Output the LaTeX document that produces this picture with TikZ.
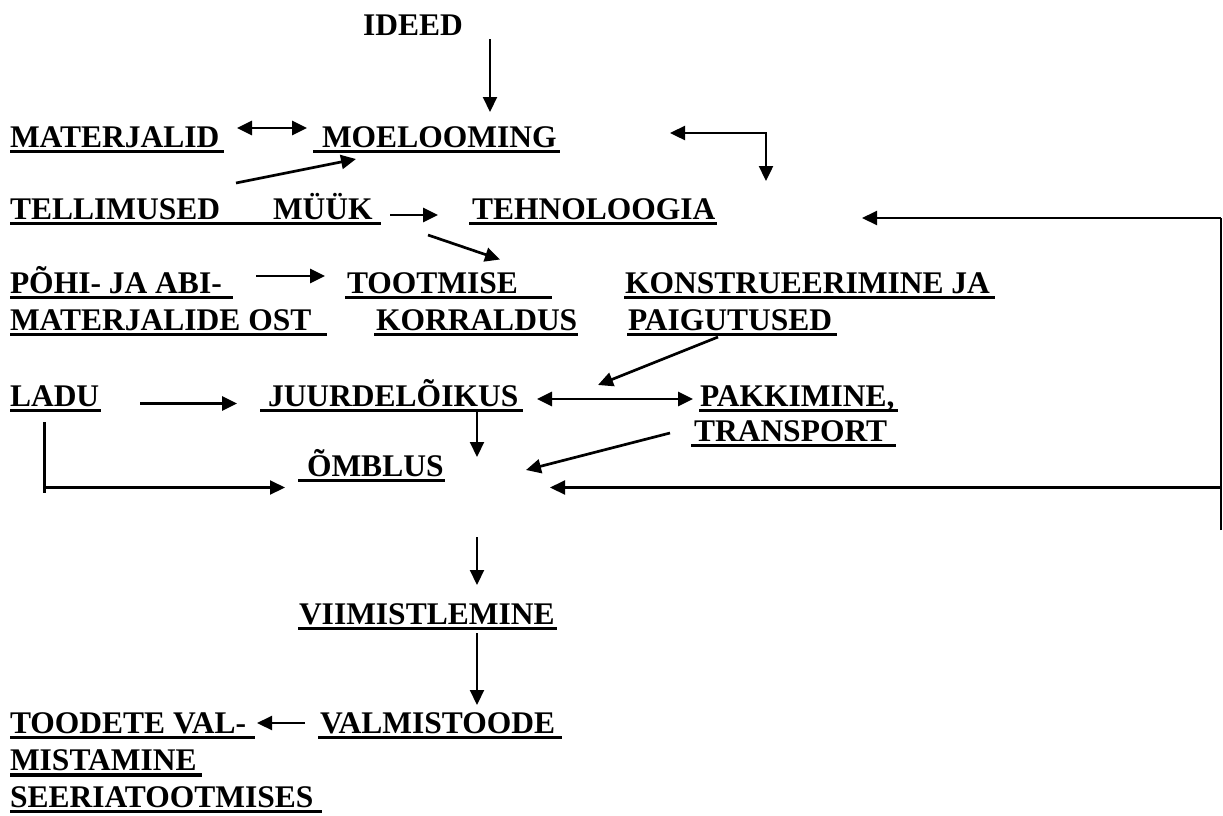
\documentclass[tikz,border=0pt]{standalone}
\usepackage{fontspec}
\setmainfont{Liberation Serif}
\usetikzlibrary{arrows.meta}
\tikzset{
  lbl/.style={anchor=base west, inner sep=0pt, outer sep=0pt,
    font=\bfseries\fontsize{31.5}{37}\selectfont},
  ul/.style={line width=3.8pt},
  tip/.style={-{Triangle[length=15pt,width=14pt]}},
  thin/.style={line width=2.1pt, tip},
  thick/.style={line width=2.7pt, tip},
  thickboth/.style={line width=2.7pt, {Triangle[length=15pt,width=14pt]}-{Triangle[length=15pt,width=14pt]}},
  plain/.style={line width=2.1pt},
}
\newcommand\ulx[3]{\draw[ul] (#1,#3+4.5) -- (#2,#3+4.5);}
\begin{document}
\begin{tikzpicture}[x=1pt,y=-1pt]
\useasboundingbox (0,0) rectangle (1223,815);
% texts
\node[lbl] (ideed) at (363,35) {IDEED};
\node[lbl] (materjalid) at (10,147) {MATERJALID};
\node[lbl] (moelooming) at (322,147) {MOELOOMING};
\node[lbl] (tellimused) at (10,219) {TELLIMUSED};
\node[lbl] (myyk) at (273,219) {MÜÜK};
\node[lbl] (tehnoloogia) at (472,219) {TEHNOLOOGIA};
\node[lbl] (pohi) at (10,293) {PÕHI- JA ABI-};
\node[lbl] (pohib) at (10,330) {MATERJALIDE OST};
\node[lbl] (tootmise) at (347,293) {TOOTMISE};
\node[lbl] (tootmiseb) at (376,330) {KORRALDUS};
\node[lbl] (konstr) at (625,293) {KONSTRUEERIMINE JA};
\node[lbl] (konstrb) at (628,330) {PAIGUTUSED};
\node[lbl] (ladu) at (10,406) {LADU};
\node[lbl] (juurde) at (268,406) {JUURDELÕIKUS};
\node[lbl] (pakk) at (700,406) {PAKKIMINE,};
\node[lbl] (pakkb) at (694,441) {TRANSPORT};
\node[lbl] (omblus) at (307,476) {ÕMBLUS};
\node[lbl] (viim) at (299,624) {VIIMISTLEMINE};
\node[lbl] (toodete) at (10,733) {TOODETE VAL-};
\node[lbl] (toodeteb) at (10,770.5) {MISTAMINE};
\node[lbl] (toodetec) at (10,807) {SEERIATOOTMISES};
\node[lbl] (valmis) at (320,733) {VALMISTOODE};
% underlines
\ulx{10}{224}{147}
\ulx{313}{560}{147}
\ulx{10}{381}{219}
\ulx{469}{717}{219}
\ulx{10}{233}{293}
\ulx{345}{552}{293}
\ulx{624}{995}{293}
\ulx{10}{327}{330}
\ulx{374}{578}{330}
\ulx{627}{837}{330}
\ulx{10}{101}{406}
\ulx{260}{523}{406}
\ulx{699}{898}{406}
\ulx{691}{896}{441}
\ulx{298}{445}{476}
\ulx{298}{557}{624}
\ulx{10}{255}{733}
\ulx{318}{562}{733}
\ulx{10}{202}{770.5}
\ulx{10}{322}{807}
% connector coordinates
\coordinate (c1a) at (490,39);   \coordinate (c1b) at (490,112);
\coordinate (c2a) at (237,128);  \coordinate (c2b) at (307,128);
\coordinate (c3a) at (670,133);  \coordinate (c3m) at (766,133); \coordinate (c3b) at (766,181);
\coordinate (c4a) at (236,183);  \coordinate (c4b) at (356,159);
\coordinate (c5a) at (390,215);  \coordinate (c5b) at (438,215);
\coordinate (fbtop) at (1221,218); \coordinate (fbbot) at (1221,530);
\coordinate (fbmid) at (1221,487.5);
\coordinate (c6b) at (862,218);
\coordinate (c6c) at (550,487.5);
\coordinate (c7a) at (428,235);  \coordinate (c7b) at (500,259.5);
\coordinate (c8a) at (256,276);  \coordinate (c8b) at (325,276);
\coordinate (c9a) at (718,337);  \coordinate (c9b) at (598,385);
\coordinate (c10a) at (140,403.5); \coordinate (c10b) at (237,403.5);
\coordinate (c11a) at (537,399); \coordinate (c11b) at (693,399);
\coordinate (c12a) at (477,412); \coordinate (c12b) at (477,457);
\coordinate (c13a) at (670,433); \coordinate (c13b) at (526,470);
\coordinate (c14a) at (44.5,422); \coordinate (c14e) at (44.5,493);
\coordinate (c14m) at (44.5,487.5); \coordinate (c14b) at (285,487.5);
\coordinate (c15a) at (477,537); \coordinate (c15b) at (477,585);
\coordinate (c16a) at (477,633); \coordinate (c16b) at (477,705);
\coordinate (c17a) at (305,723); \coordinate (c17b) at (257,723);
% connectors
\draw[thin] (c1a) -- (c1b);
\draw[thickboth] (c2a) -- (c2b);
\draw[line width=2.4pt, {Triangle[length=15pt,width=14pt]}-{Triangle[length=15pt,width=14pt]}] (c3a) -- (c3m) -- (c3b);
\draw[thick] (c4a) -- (c4b);
\draw[thick] (c5a) -- (c5b);
\draw[plain] (fbbot) -- (fbtop);
\draw[thin] (fbtop) -- (c6b);
\draw[thin] (fbmid) -- (c6c);
\draw[thick] (c7a) -- (c7b);
\draw[thick] (c8a) -- (c8b);
\draw[thick] (c9a) -- (c9b);
\draw[thick] (c10a) -- (c10b);
\draw[thickboth] (c11a) -- (c11b);
\draw[thin] (c12a) -- (c12b);
\draw[thick] (c13a) -- (c13b);
\draw[plain] (c14a) -- (c14e);
\draw[thin] (c14m) -- (c14b);
\draw[thin] (c15a) -- (c15b);
\draw[thin] (c16a) -- (c16b);
\draw[thin] (c17a) -- (c17b);
\end{tikzpicture}
\end{document}
